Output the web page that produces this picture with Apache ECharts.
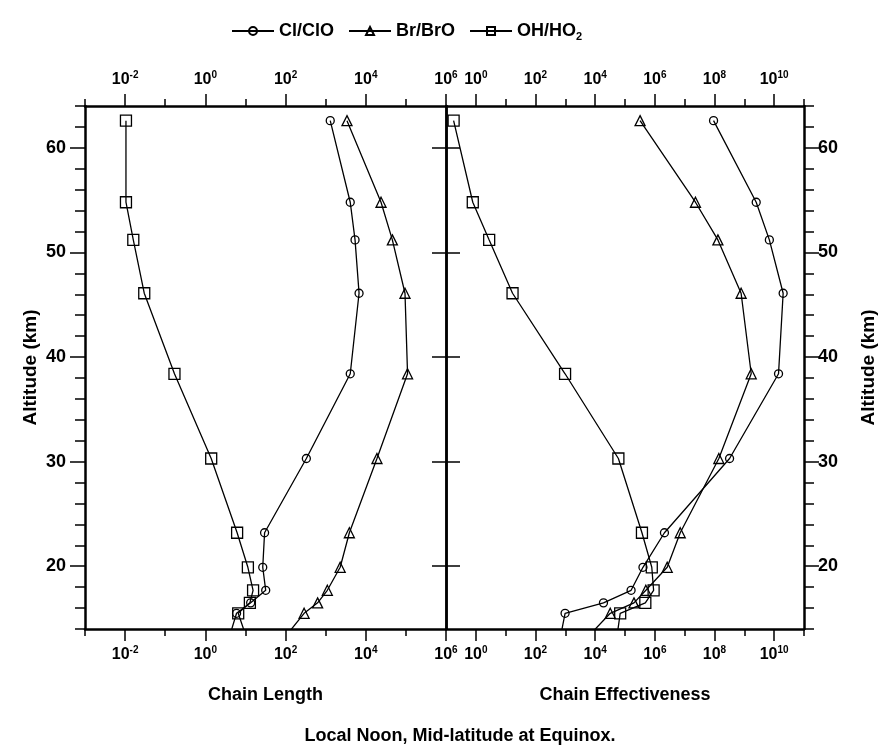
<!DOCTYPE html>
<html>
<head>
<meta charset="utf-8">
<title>Chain length / chain effectiveness</title>
<script src="https://cdn.jsdelivr.net/npm/echarts@6/dist/echarts.min.js"></script>
<style>
    html, body { margin: 0; padding: 0; background: #fff; }
    #chart { width: 883px; height: 755px; }
</style>
</head>
<body>
<div id="chart"></div>
<script>
    // altitude of each model level (km); the last level lies below the frame,
    // only the line running off the bottom edge shows it
    var altitudes = [62.6, 54.8, 51.2, 46.1, 38.4, 30.3, 23.2, 19.9, 17.7, 16.5, 15.5, 13.0]

    // chain length (left panel)
    var lengthClClO = [1.3e3, 4.1e3, 5.4e3, 6.8e3, 4.1e3, 3.3e2, 30, 27, 32, 13.5, 6.0, 3.8]
    var lengthBrBrO = [3.4e3, 2.4e4, 4.6e4, 9.5e4, 1.1e5, 1.9e4, 3.9e3, 2.3e3, 1.1e3, 630, 290, 87]
    var lengthOHHO2 = [0.0105, 0.0105, 0.016, 0.030, 0.17, 1.4, 6.2, 11.5, 15.5, 12.9, 6.6, 11]

    // chain effectiveness (right panel)
    var effClClO = [9.3e7, 2.5e9, 6.9e9, 2.0e10, 1.4e10, 3.2e8, 2.1e6, 4.0e5, 1.6e5, 1.9e4, 980, 660]
    var effBrBrO = [3.2e5, 2.3e7, 1.3e8, 7.8e8, 1.7e9, 1.4e8, 7.1e6, 2.6e6, 5.0e5, 2.0e5, 3.2e4, 4.7e3]
    var effOHHO2 = [0.18, 0.79, 2.8, 17, 980, 6.0e4, 3.7e5, 7.9e5, 9.1e5, 4.8e5, 6.9e4, 5.2e4]

    // axis extents (powers of ten) and labelled ticks
    var lengthPowers = [-3, 6]
    var effPowers = [-1, 11]
    var lengthTickPowers = [-2, 0, 2, 4, 6]
    var effTickPowers = [0, 2, 4, 6, 8, 10]
    var altitudeRange = [14, 64]
    var altitudeTicks = [20, 30, 40, 50, 60]

    var FONT = '"Liberation Sans", Arial, Helvetica, sans-serif'
    var BLACK = '#000'

    var powRich = {
        b: { fontFamily: FONT, fontWeight: 'bold', fontSize: 16, color: BLACK, lineHeight: 20 },
        s: { fontFamily: FONT, fontWeight: 'bold', fontSize: 10, color: BLACK, lineHeight: 10, verticalAlign: 'top' }
    }
    function powLabel(p) {
        return '{b|10}{s|' + p + '}'
    }

    // thin ticks at every decade plus the frame line
    function decadeAxis(grid, ext, pos) {
        return {
            gridIndex: grid, type: 'value', min: ext[0], max: ext[1], interval: 1, position: pos,
            axisLine: { show: true, onZero: false, lineStyle: { color: BLACK, width: 2.5 } },
            axisTick: { show: true, length: 7, lineStyle: { color: BLACK, width: 1.5 } },
            axisLabel: { show: false },
            splitLine: { show: false }
        }
    }
    // longer ticks + labels at every second decade
    function labelAxis(grid, ext, pos, powers, name) {
        return {
            gridIndex: grid, type: 'value', min: ext[0], max: ext[1], position: pos,
            axisLine: { show: false, onZero: false },
            axisTick: { show: true, length: 12, customValues: powers, lineStyle: { color: BLACK, width: 1.5 } },
            axisLabel: { show: true, customValues: powers, margin: 16, formatter: powLabel, rich: powRich },
            splitLine: { show: false },
            name: name || '',
            nameLocation: 'middle',
            nameGap: 57,
            nameTextStyle: { fontFamily: FONT, fontWeight: 'bold', fontSize: 18, color: BLACK }
        }
    }
    // the log axis the curves are drawn on (hidden, the value axes above draw the frame)
    function dataAxis(grid, ext) {
        return {
            gridIndex: grid, type: 'log', logBase: 10, show: false,
            min: Math.pow(10, ext[0]), max: Math.pow(10, ext[1]),
            splitLine: { show: false }
        }
    }

    function altAxis(grid, pos) {
        return {
            gridIndex: grid, type: 'value', min: altitudeRange[0], max: altitudeRange[1], interval: 2, position: pos,
            axisLine: { show: true, onZero: false, lineStyle: { color: BLACK, width: 2.5 } },
            axisTick: { show: true, length: 10, lineStyle: { color: BLACK, width: 1.5 } },
            axisLabel: { show: false },
            splitLine: { show: false }
        }
    }
    function altLabelAxis(grid, pos, gap) {
        return {
            gridIndex: grid, type: 'value', min: altitudeRange[0], max: altitudeRange[1], position: pos,
            axisLine: { show: false, onZero: false },
            axisTick: { show: true, length: 15, customValues: altitudeTicks, lineStyle: { color: BLACK, width: 1.5 } },
            axisLabel: {
                show: true, customValues: altitudeTicks, margin: pos === 'left' ? 19 : 14,
                fontFamily: FONT, fontWeight: 'bold', fontSize: 18, color: BLACK
            },
            splitLine: { show: false },
            name: 'Altitude (km)',
            nameLocation: 'middle',
            nameRotate: 90,
            nameGap: gap,
            nameTextStyle: { fontFamily: FONT, fontWeight: 'bold', fontSize: 19, color: BLACK }
        }
    }
    // the shared middle frame line, ticks only at the labelled altitudes, pointing inward
    function dividerAxis(grid, pos) {
        return {
            gridIndex: grid, type: 'value', min: altitudeRange[0], max: altitudeRange[1], position: pos,
            axisLine: { show: true, onZero: false, lineStyle: { color: BLACK, width: 2.5 } },
            axisTick: { show: true, inside: true, length: 14, customValues: altitudeTicks, lineStyle: { color: BLACK, width: 1.5 } },
            axisLabel: { show: false },
            splitLine: { show: false }
        }
    }

    function pairs(values) {
        return values.map(function (v, i) {
            return [v, altitudes[i]]
        })
    }
    function curve(name, symbol, size, values, xi, yi) {
        return {
            name: name, type: 'line', xAxisIndex: xi, yAxisIndex: yi,
            data: pairs(values), symbol: symbol, symbolSize: size, showSymbol: true, clip: true,
            lineStyle: { color: BLACK, width: 1.3 },
            itemStyle: { color: 'rgba(0,0,0,0)', borderColor: BLACK, borderWidth: 1.3 },
            emphasis: { disabled: true },
            z: 3
        }
    }

    var option = {
        animation: false,
        backgroundColor: '#fff',
        grid: [
            { left: 85, top: 106, width: 361, height: 523, outerBoundsMode: 'none' },
            { left: 446, top: 106, width: 358, height: 523, outerBoundsMode: 'none' }
        ],
        legend: {
            left: 226, top: 15,
            itemWidth: 42, itemHeight: 10, itemGap: 14,
            data: ['Cl/ClO', 'Br/BrO', 'OH/HO2'],
            formatter: function (name) {
                return name === 'OH/HO2' ? 'OH/HO{sub|2}' : name
            },
            textStyle: {
                fontFamily: FONT, fontWeight: 'bold', fontSize: 18, color: BLACK, lineHeight: 22,
                rich: { sub: { fontFamily: FONT, fontWeight: 'bold', fontSize: 11, color: BLACK, lineHeight: 12, verticalAlign: 'bottom' } }
            }
        },
        graphic: [{
            type: 'text', x: 460, y: 736,
            style: {
                text: 'Local Noon, Mid-latitude at Equinox.',
                font: 'bold 18px ' + FONT, fill: BLACK,
                textAlign: 'center', textVerticalAlign: 'middle'
            }
        }],
        xAxis: [
            dataAxis(0, lengthPowers),
            decadeAxis(0, lengthPowers, 'bottom'),
            labelAxis(0, lengthPowers, 'bottom', lengthTickPowers, 'Chain Length'),
            decadeAxis(0, lengthPowers, 'top'),
            labelAxis(0, lengthPowers, 'top', lengthTickPowers),
            dataAxis(1, effPowers),
            decadeAxis(1, effPowers, 'bottom'),
            labelAxis(1, effPowers, 'bottom', effTickPowers, 'Chain Effectiveness'),
            decadeAxis(1, effPowers, 'top'),
            labelAxis(1, effPowers, 'top', effTickPowers)
        ],
        yAxis: [
            altAxis(0, 'left'),
            altLabelAxis(0, 'left', 45),
            dividerAxis(0, 'right'),
            altAxis(1, 'right'),
            altLabelAxis(1, 'right', 55),
            dividerAxis(1, 'left')
        ],
        series: [
            curve('Cl/ClO', 'circle', 8, lengthClClO, 0, 0),
            curve('Br/BrO', 'triangle', 10, lengthBrBrO, 0, 0),
            curve('OH/HO2', 'rect', 11, lengthOHHO2, 0, 0),
            curve('Cl/ClO', 'circle', 8, effClClO, 5, 3),
            curve('Br/BrO', 'triangle', 10, effBrBrO, 5, 3),
            curve('OH/HO2', 'rect', 11, effOHHO2, 5, 3)
        ]
    }

    var myChart = echarts.init(document.getElementById('chart'), null, { renderer: 'canvas' })
    myChart.setOption(option)
</script>
</body>
</html>
